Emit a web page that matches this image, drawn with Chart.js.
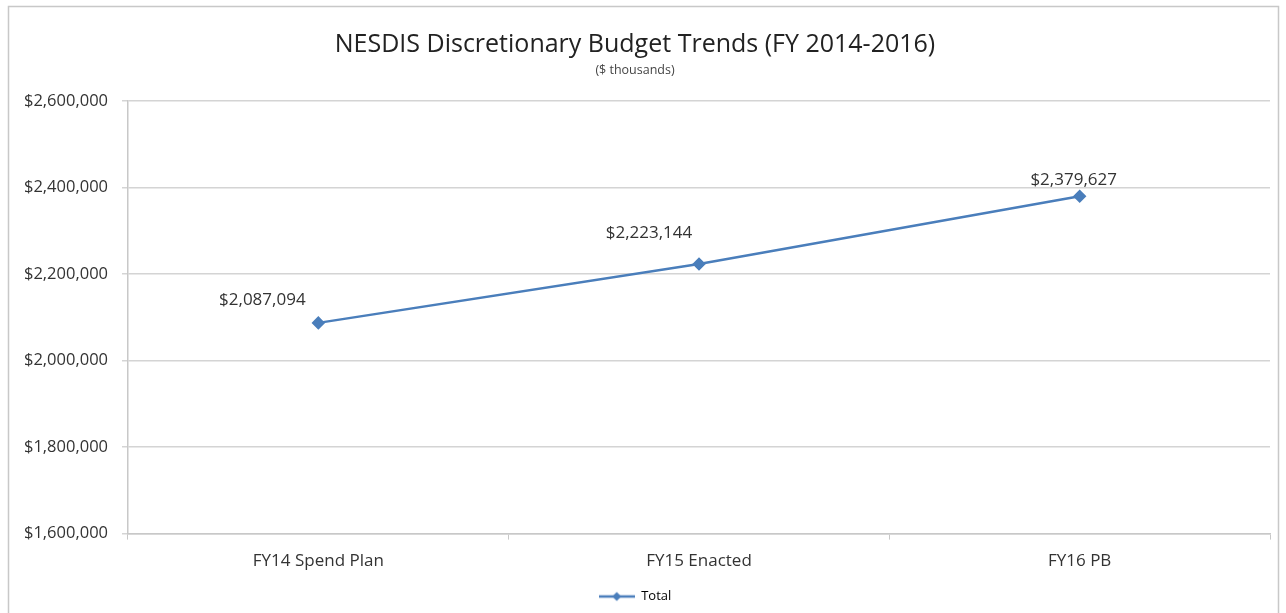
<!DOCTYPE html>
<html>
<head>
<meta charset="utf-8">
<script src="https://cdn.jsdelivr.net/npm/chart.js@4.4.0/dist/chart.umd.min.js"></script>
<style>
  html, body { margin: 0; padding: 0; background: #fff; }
  #wrap { width: 1286px; height: 613px; position: relative; }
</style>
</head>
<body>
<div id="wrap"><canvas id="budgetChart"></canvas></div>
<script>
// ---------- data ----------
const categories = ["FY14 Spend Plan", "FY15 Enacted", "FY16 PB"];
const totalValues = [2087094, 2223144, 2379627];
const yTicks = [1600000, 1800000, 2000000, 2200000, 2400000, 2600000];

const money = (v) => "$" + v.toLocaleString("en-US");
const lineBlue = "#4a7ebb";

// ---------- legend swatch: line with a diamond ----------
const swatch = document.createElement("canvas");
swatch.width = 36;
swatch.height = 12;
(function () {
  const s = swatch.getContext("2d");
  s.strokeStyle = lineBlue;
  s.fillStyle = lineBlue;
  s.lineWidth = 2.5;
  s.beginPath();
  s.moveTo(0, 6);
  s.lineTo(36, 6);
  s.stroke();
  s.beginPath();
  s.moveTo(18, 1.5);
  s.lineTo(22.5, 6);
  s.lineTo(18, 10.5);
  s.lineTo(13.5, 6);
  s.closePath();
  s.fill();
})();

// ---------- frame + data labels ----------
const framePlugin = {
  id: "frame",
  beforeDraw(chart) {
    const c = chart.ctx;
    c.save();
    c.fillStyle = "#fff";
    c.fillRect(0, 0, chart.width, chart.height);
    c.strokeStyle = "#c8c8c8";
    c.lineWidth = 1.5;
    c.beginPath();
    c.moveTo(8.5, 613);
    c.lineTo(8.5, 6.5);
    c.lineTo(1278.5, 6.5);
    c.lineTo(1278.5, 613);
    c.stroke();
    c.restore();
  },
};

// label offsets relative to each point (Excel placed them up-left)
const labelShift = [[-56, -23], [-50, -31], [-6, -16]];

const valueLabels = {
  id: "valueLabels",
  afterDatasetsDraw(chart) {
    const c = chart.ctx;
    const meta = chart.getDatasetMeta(0);
    c.save();
    c.font = "17px 'Open Sans'";
    c.fillStyle = "#333";
    c.textAlign = "center";
    c.textBaseline = "middle";
    meta.data.forEach((pt, i) => {
      c.fillText(money(totalValues[i]), pt.x + labelShift[i][0], pt.y + labelShift[i][1]);
    });
    c.restore();
  },
};

const ctx = document.getElementById("budgetChart").getContext("2d");
new Chart(ctx, {
  type: "line",
  data: {
    labels: categories,
    datasets: [
      {
        label: "Total",
        data: totalValues,
        borderColor: lineBlue,
        backgroundColor: lineBlue,
        borderWidth: 2.5,
        pointStyle: "rectRot",
        pointRadius: 5,
        pointHoverRadius: 5,
        tension: 0,
      },
    ],
  },
  options: {
    responsive: true,
    maintainAspectRatio: false,
    animation: false,
    layout: { padding: { top: 8, right: 16, bottom: 0, left: 0 } },
    plugins: {
      title: {
        display: true,
        text: "NESDIS Discretionary Budget Trends (FY 2014-2016)",
        color: "#222",
        font: { family: "'Open Sans'", size: 25, weight: "normal" },
        padding: { top: 22, bottom: 0 },
      },
      subtitle: {
        display: true,
        text: "($ thousands)",
        color: "#444",
        font: { family: "'Open Sans'", size: 12.5 },
        padding: { top: 3, bottom: 23 },
      },
      legend: {
        position: "bottom",
        labels: {
          color: "#444",
          font: { family: "'Open Sans'", size: 13 },
          usePointStyle: true,
          pointStyleWidth: 36,
          boxHeight: 12,
          padding: 8,
          generateLabels() {
            return [{
              text: "Total",
              pointStyle: swatch,
              fillStyle: lineBlue,
              strokeStyle: lineBlue,
              lineWidth: 0,
              datasetIndex: 0,
            }];
          },
        },
      },
      tooltip: { enabled: false },
    },
    scales: {
      x: {
        offset: true,
        grid: {
          offset: true,
          drawOnChartArea: false,
          drawTicks: true,
          tickLength: 6,
          color: "#c8c8c8",
        },
        border: { color: "#c8c8c8", width: 1.5 },
        ticks: {
          color: "#333",
          font: { family: "'Open Sans'", size: 17 },
          padding: 11,
        },
      },
      y: {
        min: 1600000,
        max: 2600000,
        afterBuildTicks(scale) {
          scale.ticks = yTicks.map((v) => ({ value: v }));
        },
        afterFit(scale) {
          scale.width = 128;
        },
        grid: {
          color: "#d4d4d4",
          lineWidth: 1.5,
          tickLength: 6,
        },
        border: { color: "#c8c8c8", width: 1.5 },
        ticks: {
          color: "#333",
          font: { family: "'Open Sans'", size: 16.5 },
          padding: 14,
          callback: (v) => money(v),
        },
      },
    },
  },
  plugins: [framePlugin, valueLabels],
});
</script>
</body>
</html>
